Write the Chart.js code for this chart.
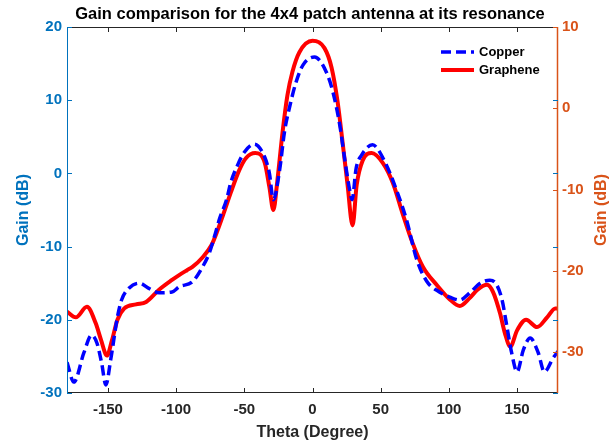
<!DOCTYPE html>
<html>
<head>
<meta charset="utf-8">
<script src="https://cdn.jsdelivr.net/npm/chart.js@4/dist/chart.umd.min.js"></script>
<style>
  html, body { margin: 0; padding: 0; background: #fff; }
  #wrap { width: 612px; height: 446px; position: relative; }
</style>
</head>
<body>
<div id="wrap"><canvas id="c" width="612" height="446"></canvas></div>
<script>
// ---- data ----
const chartTitle = 'Gain comparison for the 4x4 patch antenna at its resonance';
const xTitle = 'Theta (Degree)';
const yTitle = 'Gain (dB)';
const xTicks = [-150, -100, -50, 0, 50, 100, 150];
const yLeftTicks = [-30, -20, -10, 0, 10, 20];
const yRightTicks = [-30, -20, -10, 0, 10];

const copperTheta = [-180, -175, -167.6, -162, -158, -154.6, -151.5, -148, -143, -140, -134.6, -127, -120, -112.5, -103, -97.8, -88, -81, -75.7, -72, -68, -63, -60, -55, -50, -42.6, -35, -31.6, -28.7, -24, -20.6, -17, -12, -7, 1.5, 10, 15, 20, 23.5, 27, 29, 32, 36, 44, 53, 62, 69, 76.5, 84, 93, 100.7, 108, 115.4, 123, 130, 135, 139, 142.6, 146, 150, 154.6, 159.6, 165.5, 170, 176.5, 180];
const copperGain = [-25.8, -28.5, -24.5, -22.1, -23.2, -25.9, -28.9, -25.5, -19.6, -17.3, -15.7, -15.0, -15.7, -16.3, -16.2, -15.5, -14.8, -12.9, -10.9, -8.7, -6.1, -3.6, -1.3, 1.1, 2.9, 4.0, 2.2, 0.0, -3.6, 0.6, 5.6, 8.9, 12.5, 14.8, 15.9, 13.9, 11.1, 6.6, 2.1, -2.0, -3.6, 0.7, 2.5, 3.9, 1.6, -2.5, -6.4, -11.8, -14.8, -16.2, -16.9, -17.3, -16.3, -15.0, -14.6, -15.2, -17.3, -21.0, -24.5, -27.1, -24.1, -22.5, -24.5, -27.1, -25.2, -24.3];

const grapheneTheta = [-180, -173.5, -165.4, -159, -155, -150.7, -147, -143, -138, -129.4, -122, -112.5, -103, -97.8, -92, -88, -81, -74, -69.6, -64.7, -60, -53.7, -48.7, -42, -35, -31.6, -28.7, -25.7, -22, -18.4, -14.7, -9.6, 0, 8.8, 14, 18.4, 22, 25.7, 29.4, 32.4, 36.8, 43.4, 51.5, 59, 66, 73.5, 81, 91, 100.7, 108, 115.4, 121, 128, 132.4, 137.5, 141, 145, 150, 156.6, 164.7, 172, 178, 180];
const grapheneGain = [-25.0, -25.7, -24.4, -26.4, -28.5, -30.4, -28.5, -26.0, -24.6, -24.1, -23.8, -22.3, -21.1, -20.5, -19.9, -19.5, -18.4, -16.8, -15.0, -12.7, -10.4, -7.6, -6.1, -5.5, -6.7, -9.7, -12.5, -8.8, -3.0, 1.6, 4.5, 6.9, 8.3, 7.4, 5.0, 0.8, -4.1, -9.4, -14.4, -9.4, -6.4, -5.5, -6.7, -9.2, -12.9, -16.6, -19.5, -21.7, -23.5, -24.3, -23.3, -22.3, -21.7, -22.6, -25.2, -27.6, -29.3, -27.3, -26.0, -26.9, -25.7, -24.6, -24.6];

// ---- styles ----
const FONT = '"Liberation Sans", Arial, Helvetica, sans-serif';
const BLUE_AX = '#0072BD';
const ORANGE_AX = '#D95319';
const DARK = '#262626';

const toXY = (xs, ys) => xs.map((x, i) => ({ x: x, y: ys[i] }));

const overlay = {
  id: 'overlay',
  afterDraw(chart) {
    const ctx = chart.ctx;
    const a = chart.chartArea;
    const sx = chart.scales.x, sl = chart.scales.y, sr = chart.scales.y1;
    ctx.save();
    // frame
    ctx.lineWidth = 1;
    ctx.strokeStyle = DARK;
    ctx.beginPath();
    ctx.moveTo(a.left, a.top + 0.5); ctx.lineTo(a.right, a.top + 0.5);
    ctx.moveTo(a.left, a.bottom - 0.5); ctx.lineTo(a.right, a.bottom - 0.5);
    ctx.stroke();
    ctx.strokeStyle = BLUE_AX;
    ctx.beginPath(); ctx.moveTo(a.left + 0.5, a.top); ctx.lineTo(a.left + 0.5, a.bottom); ctx.stroke();
    ctx.strokeStyle = ORANGE_AX;
    ctx.lineWidth = 1.5;
    ctx.beginPath(); ctx.moveTo(a.right - 0.5, a.top); ctx.lineTo(a.right - 0.5, a.bottom); ctx.stroke();
    // inward ticks
    const TL = 5;
    ctx.lineWidth = 1;
    ctx.strokeStyle = DARK;
    ctx.beginPath();
    xTicks.forEach(v => {
      const px = Math.round(sx.getPixelForValue(v)) + 0.5;
      ctx.moveTo(px, a.bottom); ctx.lineTo(px, a.bottom - TL);
      ctx.moveTo(px, a.top); ctx.lineTo(px, a.top + TL);
    });
    ctx.stroke();
    ctx.strokeStyle = BLUE_AX;
    ctx.beginPath();
    yLeftTicks.forEach(v => {
      const py = Math.round(sl.getPixelForValue(v)) + 0.5;
      ctx.moveTo(a.left, py); ctx.lineTo(a.left + TL, py);
      ctx.moveTo(a.right, py); ctx.lineTo(a.right - TL, py);
    });
    ctx.stroke();
    ctx.strokeStyle = ORANGE_AX;
    ctx.beginPath();
    yRightTicks.forEach(v => {
      const py = Math.round(sr.getPixelForValue(v)) + 0.5;
      ctx.moveTo(a.right, py); ctx.lineTo(a.right - TL, py);
    });
    ctx.stroke();

    // title
    ctx.fillStyle = '#000';
    ctx.font = 'bold 16.5px ' + FONT;
    ctx.textAlign = 'center';
    ctx.textBaseline = 'middle';
    ctx.fillText(chartTitle, 310, 14);
    // x title
    ctx.fillStyle = DARK;
    ctx.font = 'bold 16px ' + FONT;
    ctx.fillText(xTitle, (a.left + a.right) / 2, 433);
    // y titles
    const cy = (a.top + a.bottom) / 2;
    ctx.save();
    ctx.translate(24, cy); ctx.rotate(-Math.PI / 2);
    ctx.fillStyle = BLUE_AX; ctx.fillText(yTitle, 0, 0);
    ctx.restore();
    ctx.save();
    ctx.translate(602, cy); ctx.rotate(-Math.PI / 2);
    ctx.fillStyle = ORANGE_AX; ctx.fillText(yTitle, 0, 0);
    ctx.restore();

    // legend
    ctx.font = 'bold 13px ' + FONT;
    ctx.textAlign = 'left';
    chart.data.datasets.forEach((ds, i) => {
      const y = 52 + i * 18;
      ctx.save();
      ctx.strokeStyle = ds.borderColor;
      ctx.lineWidth = ds.borderWidth;
      ctx.setLineDash(ds.borderDash || []);
      ctx.beginPath(); ctx.moveTo(441, y); ctx.lineTo(474, y); ctx.stroke();
      ctx.restore();
      ctx.fillStyle = '#000';
      ctx.fillText(ds.label, 479, y + 0.5);
    });
    ctx.restore();
  }
};

new Chart(document.getElementById('c'), {
  type: 'line',
  data: {
    datasets: [
      {
        label: 'Copper',
        data: toXY(copperTheta, copperGain),
        yAxisID: 'y',
        borderColor: '#0000FF',
        borderWidth: 3.5,
        borderDash: [10, 5],
        pointRadius: 0,
        fill: false,
        cubicInterpolationMode: 'monotone'
      },
      {
        label: 'Graphene',
        data: toXY(grapheneTheta, grapheneGain),
        yAxisID: 'y1',
        borderColor: '#FF0000',
        borderWidth: 4,
        pointRadius: 0,
        fill: false,
        cubicInterpolationMode: 'monotone'
      }
    ]
  },
  options: {
    responsive: false,
    animation: false,
    devicePixelRatio: 1,
    layout: { padding: { top: 27, left: 0, right: 0, bottom: 0 } },
    plugins: { legend: { display: false }, tooltip: { enabled: false }, title: { display: false } },
    scales: {
      x: {
        type: 'linear', position: 'bottom', min: -180, max: 180,
        afterBuildTicks: s => { s.ticks = xTicks.map(v => ({ value: v })); },
        afterFit: s => { s.height = 53; },
        grid: { display: false, drawTicks: false },
        border: { display: false },
        ticks: { color: DARK, font: { family: FONT, size: 15, weight: 'bold' }, padding: 8, maxRotation: 0 }
      },
      y: {
        type: 'linear', position: 'left', min: -30, max: 20,
        afterBuildTicks: s => { s.ticks = yLeftTicks.map(v => ({ value: v })); },
        afterFit: s => { s.width = 67; },
        grid: { display: false, drawTicks: false },
        border: { display: false },
        ticks: { color: BLUE_AX, font: { family: FONT, size: 15, weight: 'bold' }, padding: 5 }
      },
      y1: {
        type: 'linear', position: 'right', min: -35, max: 10,
        afterBuildTicks: s => { s.ticks = yRightTicks.map(v => ({ value: v })); },
        afterFit: s => { s.width = 54; },
        grid: { display: false, drawTicks: false },
        border: { display: false },
        ticks: { color: ORANGE_AX, font: { family: FONT, size: 15, weight: 'bold' }, padding: 4 }
      }
    }
  },
  plugins: [overlay]
});
</script>
</body>
</html>
